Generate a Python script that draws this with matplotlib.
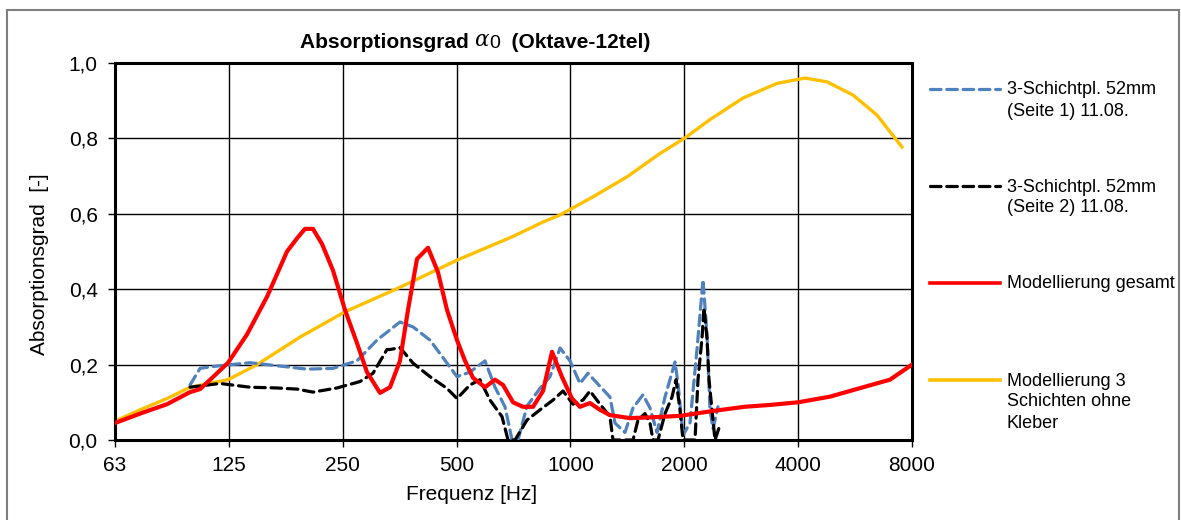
import matplotlib
matplotlib.use("Agg")
import matplotlib.pyplot as plt
from matplotlib.lines import Line2D

plt.rcParams['font.family'] = ['Liberation Sans', 'DejaVu Sans']

# Octave-axis ticks
tick_freqs = [62.5, 125, 250, 500, 1000, 2000, 4000, 8000]
tick_labels = ['63', '125', '250', '500', '1000', '2000', '4000', '8000']
y_ticks = [0.0, 0.2, 0.4, 0.6, 0.8, 1.0]
y_tick_labels = ['0,0', '0,2', '0,4', '0,6', '0,8', '1,0']

# Measurement, side 1
f_side1 = [98.7, 104.9, 113.5, 142.2, 167.6, 201.2, 235.6, 272.7, 308.0, 354.3,
           383.5, 425.3, 471.7, 501.3, 542.5, 594.5, 631.8, 671.5, 700.8, 726.8,
           767.8, 830.9, 883.1, 938.6, 997.4, 1059.9, 1112.9, 1182.7, 1272.3,
           1311.6, 1393.9, 1463.6, 1555.4, 1623.2, 1693.9, 1778.4, 1890.1,
           1925.0, 1984.4, 2070.7, 2160.8, 2241.3, 2296.6, 2338.8, 2381.9, 2455.6]
a_side1 = [0.146, 0.19, 0.195, 0.205, 0.197, 0.188, 0.19, 0.21, 0.265, 0.313,
           0.30, 0.265, 0.204, 0.168, 0.18, 0.21, 0.14, 0.088, 0.0, 0.0,
           0.09, 0.137, 0.168, 0.244, 0.21, 0.15, 0.177, 0.148, 0.114,
           0.045, 0.02, 0.085, 0.12, 0.085, 0.02, 0.114, 0.207,
           0.15, 0.013, 0.045, 0.24, 0.425, 0.28, 0.08, 0.03, 0.088]

# Measurement, side 2
f_side2 = [98.7, 118.4, 142.2, 167.6, 189.3, 208.6, 241.4, 277.7, 300.6, 327.3,
           333.4, 354.3, 383.5, 425.3, 471.7, 501.3, 542.5, 576.6, 612.8, 659.3,
           683.9, 713.7, 767.8, 830.9, 899.4, 955.9, 1015.7, 1079.5, 1126.4,
           1197.2, 1272.3, 1295.7, 1463.6, 1508.8, 1574.5, 1623.2, 1653.1,
           1704.2, 1778.4, 1855.9, 1901.7, 1948.5, 1984.4, 2134.7, 2174.1,
           2227.7, 2255.0, 2296.6, 2324.6, 2367.5, 2411.1, 2485.7]
a_side2 = [0.14, 0.15, 0.14, 0.138, 0.135, 0.127, 0.138, 0.155, 0.177, 0.24,
           0.24, 0.245, 0.204, 0.168, 0.137, 0.11, 0.146, 0.16, 0.106, 0.062,
           0.0, 0.0, 0.053, 0.08, 0.106, 0.13, 0.095, 0.106, 0.13,
           0.095, 0.062, 0.0, 0.0, 0.053, 0.07, 0.045, 0.0,
           0.0, 0.07, 0.114, 0.16, 0.08, 0.0, 0.0, 0.16,
           0.27, 0.35, 0.27, 0.16, 0.08, 0.0, 0.04]

# Model, complete build-up
f_model = [62.5, 72.8, 85.8, 98.7, 104.9, 113.5, 124.4, 139.6, 157.7, 178.1,
           189.3, 198.7, 208.6, 220.4, 235.6, 253.5, 272.7, 289.8, 313.7, 333.4,
           354.3, 372.0, 392.9, 420.2, 446.5, 471.7, 501.3, 526.3, 552.6, 594.5,
           631.8, 663.4, 705.1, 749.3, 796.3, 846.3, 894.0, 950.1, 1009.6, 1059.9,
           1126.4, 1197.2, 1272.3, 1437.0, 1623.2, 1948.5, 2381.9, 2880.0, 3370.0,
           4000.0, 4856.0, 5800.0, 6997.0, 8000.0]
a_model = [0.045, 0.07, 0.095, 0.127, 0.135, 0.167, 0.205, 0.28, 0.38, 0.50,
           0.535, 0.56, 0.56, 0.52, 0.45, 0.345, 0.257, 0.18, 0.125, 0.14,
           0.21, 0.345, 0.48, 0.51, 0.445, 0.345, 0.265, 0.21, 0.165, 0.14,
           0.16, 0.146, 0.10, 0.088, 0.088, 0.13, 0.234, 0.167, 0.11, 0.088,
           0.098, 0.08, 0.066, 0.058, 0.06, 0.064, 0.077, 0.088, 0.093,
           0.10, 0.115, 0.137, 0.16, 0.2]

# Model, three layers without adhesive
f_layers = [62.5, 72.8, 85.8, 98.7, 124.4, 148.4, 192.8, 253.5, 354.3, 501.3,
            705.1, 845.0, 939.0, 1147.0, 1411.0, 1725.0, 2000.0, 2339.0, 2860.0,
            3517.0, 4170.0, 4770.0, 5587.0, 6463.0, 7527.0]
a_layers = [0.05, 0.08, 0.11, 0.14, 0.16, 0.2, 0.273, 0.34, 0.405, 0.477,
            0.54, 0.578, 0.597, 0.645, 0.698, 0.76, 0.80, 0.85, 0.907,
            0.946, 0.96, 0.95, 0.915, 0.862, 0.777]

W, H = 1181, 520
fig = plt.figure(figsize=(W / 100, H / 100), dpi=100)
ax = fig.add_axes([115 / W, 1 - 440 / H, (912 - 115) / W, (440 - 63) / H])

blue = '#4F81BD'
yellow = '#FFC000'
red = '#FF0000'
dash = (3.3, 1.8)

ax.plot(f_side1, a_side1, color=blue, lw=2.3, dashes=dash,
        dash_capstyle='round', zorder=3)
ax.plot(f_side2, a_side2, color='black', lw=2.3, dashes=dash,
        dash_capstyle='round', zorder=4)
ax.plot(f_model, a_model, color=red, lw=3.0, zorder=5)
ax.plot(f_layers, a_layers, color=yellow, lw=2.4, zorder=2)

ax.set_xscale('log', base=2)
ax.set_xlim(62.5, 8000)
ax.set_ylim(0, 1.0)
ax.set_xticks(tick_freqs)
ax.set_xticklabels(tick_labels)
ax.xaxis.set_minor_locator(matplotlib.ticker.NullLocator())
ax.set_yticks(y_ticks)
ax.set_yticklabels(y_tick_labels)
ax.tick_params(axis='both', direction='out', length=5, width=1, labelsize=15,
               colors='black')
ax.tick_params(axis='x', pad=6.5)
ax.tick_params(axis='y', pad=7.5)
ax.grid(True, color='black', lw=1.0, zorder=0)
for s in ax.spines.values():
    s.set_linewidth(2.2)
    s.set_color('black')
ax.set_axisbelow(True)

# Axis titles
fig.text(471.5 / W, 1 - 495 / H, 'Frequenz [Hz]', fontsize=15,
         ha='center', va='center')
fig.text(40 / W, 1 - 264 / H, 'Absorptionsgrad  [-]', fontsize=15,
         ha='center', va='center', rotation=90)

# Title with the alpha symbol set in regular weight
t1 = fig.text(300 / W, 1 - 42 / H, 'Absorptionsgrad ', fontsize=15,
              fontweight='bold', ha='left', va='center')
t2 = ax.annotate('α', xy=(1, 0), xycoords=t1, ha='left', va='bottom',
                 fontsize=15.5, family=['DejaVu Serif'], style='italic')
t2b = ax.annotate('0', xy=(1, 0), xycoords=t2, ha='left', va='bottom',
                  fontsize=14)
t3 = ax.annotate('  (Oktave-12tel)', xy=(1, 0), xycoords=t2b, ha='left',
                 va='bottom', fontsize=15, fontweight='bold')

# Legend drawn beside the plot area
entries = [
    (blue, dash, 89, ['3-Schichtpl. 52mm', '(Seite 1) 11.08.']),
    ('black', dash, 186, ['3-Schichtpl. 52mm', '(Seite 2) 11.08.']),
    (red, None, 283, ['Modellierung gesamt']),
    (yellow, None, 380, ['Modellierung 3', 'Schichten ohne', 'Kleber']),
]
for color, ds, ypx, lines in entries:
    ln = Line2D([930 / W, 1000 / W], [1 - ypx / H, 1 - ypx / H], color=color,
                lw=2.6 if ds is None else 2.3, transform=fig.transFigure)
    if ds is not None:
        ln.set_dashes(ds)
        ln.set_dash_capstyle('round')
    fig.add_artist(ln)
    for i, txt in enumerate(lines):
        fig.text(1007 / W, 1 - (ypx + 1 + 21 * i) / H, txt, fontsize=13,
                 ha='left', va='center')

# Outer chart frame
frame_kw = dict(color='#7F7F7F', lw=1.5, transform=fig.transFigure)
fig.add_artist(Line2D([7 / W, 1179 / W], [1 - 10 / H, 1 - 10 / H], **frame_kw))
fig.add_artist(Line2D([7 / W, 7 / W], [1 - 10 / H, 0], **frame_kw))
fig.add_artist(Line2D([1179 / W, 1179 / W], [1 - 10 / H, 0], **frame_kw))

fig.savefig('out.png', dpi=100)
